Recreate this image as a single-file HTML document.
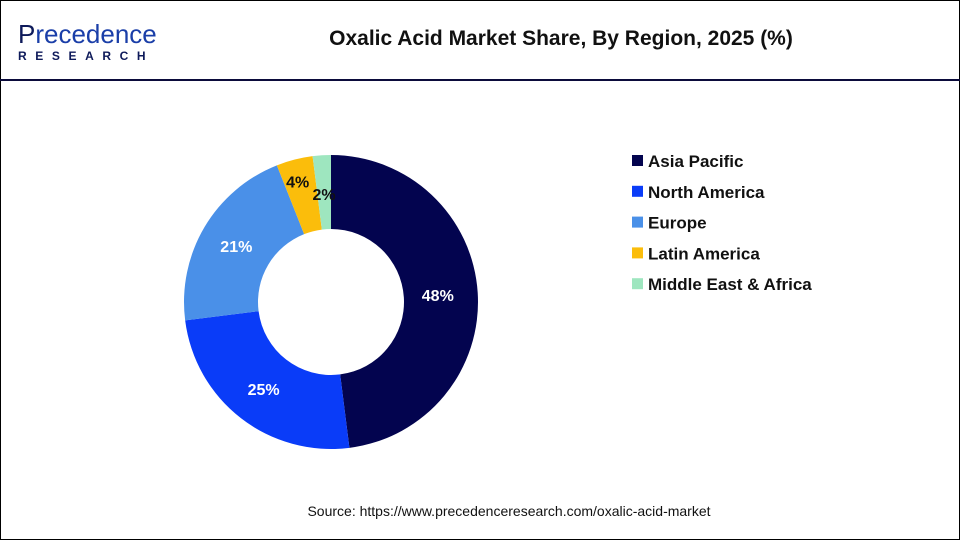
<!DOCTYPE html>
<html><head><meta charset="utf-8"><style>
body{margin:0;background:#fff;font-family:"Liberation Sans",Arial,sans-serif}
#frame{position:absolute;left:0;top:0;width:958px;height:538px;border:1px solid #000}
#hdr{position:absolute;left:0;top:79px;width:960px;height:2px;background:#0b0b3b}
</style></head><body>
<div id="frame"></div>
<div style="position:absolute;left:18px;top:20px">
 <div style="font-size:26px;color:#0e1a5a;line-height:28px">P<span style="color:#1a3ea8">recedence</span></div>
 <div style="font-size:12px;font-weight:bold;color:#0e1a5a;letter-spacing:8.6px;margin-top:1px">RESEARCH</div>
</div>
<div style="position:absolute;left:261px;top:27px;width:600px;text-align:center;font-size:21px;font-weight:bold;color:#111">Oxalic Acid Market Share, By Region, 2025 (%)</div>
<div id="hdr"></div>
<svg id="chart" width="960" height="540" style="position:absolute;left:0;top:0"></svg>
<div style="position:absolute;left:9px;top:503px;width:1000px;text-align:center;font-size:14px;color:#111">Source: https://www.precedenceresearch.com/oxalic-acid-market</div>
<script>
const categories=["Asia Pacific","North America","Europe","Latin America","Middle East & Africa"];
const values=[48,25,21,4,2];
const labels=["48%","25%","21%","4%","2%"];
const colors=["#03044f","#0a3cf8","#4a90e8","#fbbd0b","#9ee6bf"];
const labelColors=["#fff","#fff","#fff","#111","#111"];
const NS="http://www.w3.org/2000/svg";
const svg=document.getElementById("chart");
const cx=331,cy=302,R=147,r=73;
const total=values.reduce((a,b)=>a+b,0);
function pt(a,rad){return [cx+rad*Math.sin(a),cy-rad*Math.cos(a)];}
let acc=0;
values.forEach((v,i)=>{
 const a0=acc/total*2*Math.PI;acc+=v;const a1=acc/total*2*Math.PI;
 const lg=(a1-a0)>Math.PI?1:0;
 const [x0,y0]=pt(a0,R),[x1,y1]=pt(a1,R),[x2,y2]=pt(a1,r),[x3,y3]=pt(a0,r);
 const p=document.createElementNS(NS,"path");
 p.setAttribute("d",`M${x0},${y0}A${R},${R} 0 ${lg} 1 ${x1},${y1}L${x2},${y2}A${r},${r} 0 ${lg} 0 ${x3},${y3}Z`);
 p.setAttribute("fill",colors[i]);
 
 
 svg.appendChild(p);
 let am=(a0+a1)/2,lr=110;
 let [lx,ly]=pt(am,lr);
 if(i===0){lx-=3;}
 if(i===3){lx-=6;ly-=14;} if(i===4){ly+=2;}
 const t=document.createElementNS(NS,"text");
 t.setAttribute("x",lx);t.setAttribute("y",ly+6);
 t.setAttribute("text-anchor","middle");t.setAttribute("font-size","16");t.setAttribute("font-weight","bold");
 t.setAttribute("fill",labelColors[i]);t.setAttribute("font-family","Liberation Sans, sans-serif");
 t.textContent=labels[i];
 
 
 svg.appendChild(t);
});
categories.forEach((c,i)=>{
 const y=161+i*30.8;
 const rc=document.createElementNS(NS,"rect");
 rc.setAttribute("x",632);rc.setAttribute("y",y-6);rc.setAttribute("width",11);rc.setAttribute("height",11);rc.setAttribute("fill",colors[i]);
 
 
 svg.appendChild(rc);
 const t=document.createElementNS(NS,"text");
 t.setAttribute("x",648);t.setAttribute("y",y+6);t.setAttribute("font-size","17");t.setAttribute("font-weight","bold");
 t.setAttribute("fill","#111");t.setAttribute("font-family","Liberation Sans, sans-serif");
 t.textContent=c;
 
 
 svg.appendChild(t);
});
</script>
</body></html>
